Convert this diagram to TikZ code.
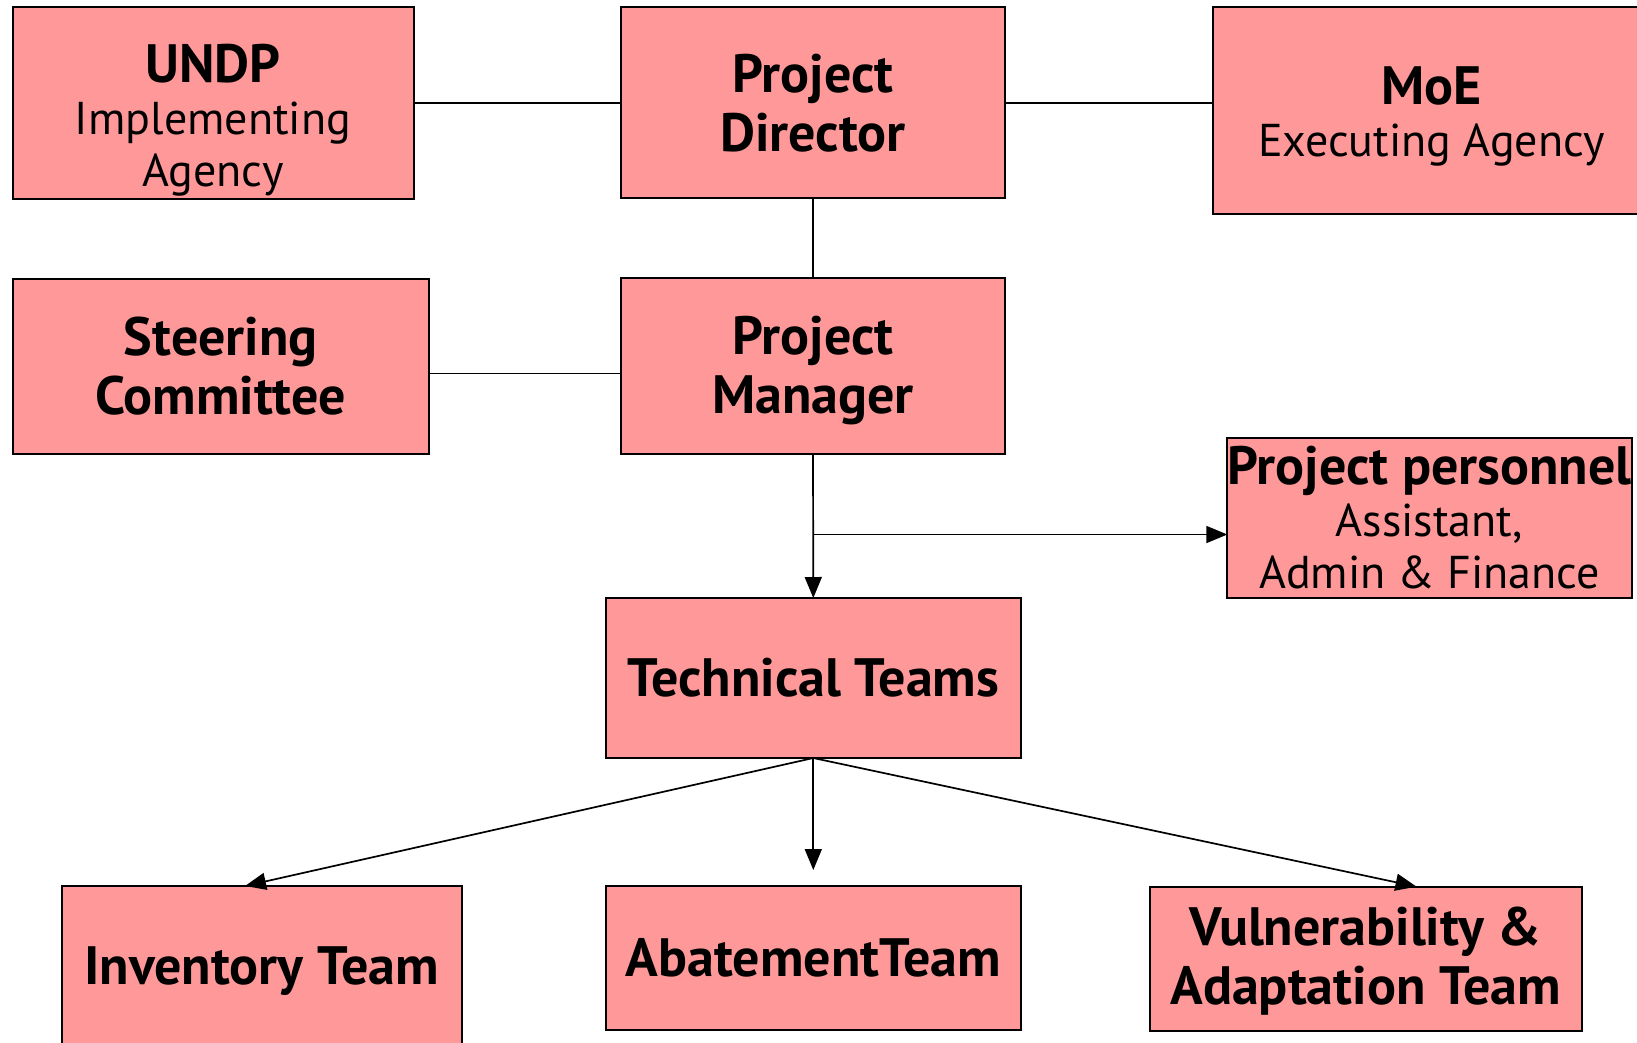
\documentclass[tikz,border=0pt]{standalone}
\usepackage{fontspec}
\setmainfont{PT Sans}
\usetikzlibrary{arrows.meta}
\definecolor{boxpink}{RGB}{255,153,153}
\tikzset{
  orgbox/.style={draw=black, fill=boxpink, line width=2pt, inner sep=0pt,
    outer sep=0pt, align=center, font=\fontsize{46}{52}\selectfont},
  link/.style={line width=1.7pt},
  arrowlink/.style={link, -{Triangle[length=21pt,width=17pt]}},
}
\newcommand{\hd}[1]{{\fontsize{54}{57}\bfseries\selectfont #1}}
\begin{document}
\begin{tikzpicture}[x=1pt,y=-1pt]
\useasboundingbox (0,0) rectangle (1637,1042);
% top row (text height/depth place the last text line inside the box)
\node[orgbox, minimum width=401pt, minimum height=192.6pt,
      text height=179.3pt, text depth=13.3pt] (undp) at (213,103)
  {\hd{UNDP}\\Implementing\\Agency};
\node[orgbox, minimum width=384pt, minimum height=191pt] (pd) at (813,102.9)
  {\hd{Project}\\[7pt]\hd{Director}};
\node[orgbox, minimum width=437pt, minimum height=207.6pt,
      text height=149.3pt, text depth=58.3pt] (moe) at (1431.5,110.5)
  {\hd{MoE}\\Executing Agency};
% second row
\node[orgbox, minimum width=416.5pt, minimum height=175pt] (sc) at (220.8,366.5)
  {\hd{Steering}\\[7pt]\hd{Committee}};
\node[orgbox, minimum width=384pt, minimum height=176pt,
      text height=134.7pt, text depth=41.3pt] (pm) at (813,366.3)
  {\hd{Project}\\[7pt]\hd{Manager}};
\node[orgbox, minimum width=401pt, minimum height=160pt] (pers) at (1429.5,518)
  {\hd{Project personnel}\\Assistant,\\Admin \& Finance};
% technical teams
\node[orgbox, minimum width=415.5pt, minimum height=160pt] (tt) at (813.3,678)
  {\hd{Technical Teams}};
\node[orgbox, minimum width=400pt, minimum height=170pt] (inv) at (261.5,971)
  {\hd{Inventory Team}};
\node[orgbox, minimum width=415.5pt, minimum height=144pt] (abat) at (813.3,958)
  {\hd{AbatementTeam}};
\node[orgbox, minimum width=432pt, minimum height=144.3pt,
      text height=118.3pt, text depth=26pt] (vul) at (1365.5,958.8)
  {\hd{Vulnerability \&}\\[7pt]\hd{Adaptation Team}};
% connectors
\draw[link] (undp.east |- pd.east) -- (pd.west);
\draw[link] (pd.east) -- (pd.east -| moe.west);
\draw[link] (pd.south) -- (pm.north);
\draw[link] ([yshift=-7pt]sc.east) -- ([yshift=-7pt]sc.east -| pm.west);
\draw[arrowlink] (pm.south) -- (tt.north);
\coordinate (branch) at (813,534.5);
\draw[arrowlink] (branch) -- (branch -| pers.west);
\draw[arrowlink] (tt.south) -- ([xshift=-16.5pt]inv.north);
\draw[arrowlink] (tt.south) -- ([yshift=16pt]abat.north);
\draw[arrowlink] (tt.south) -- ([xshift=51pt]vul.north);
\end{tikzpicture}
\end{document}
